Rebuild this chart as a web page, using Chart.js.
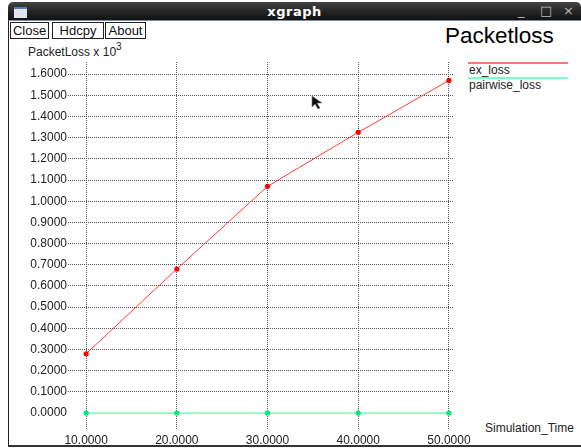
<!DOCTYPE html>
<html lang="en">
<head>
<meta charset="UTF-8"/>
<title>xgraph - Packetloss</title>
<script src="https://cdn.jsdelivr.net/npm/chart.js"></script>
<style>
  html, body { margin:0; padding:0; background:#fff; width:581px; height:448px; overflow:hidden; font-family:'Liberation Sans', Arial, sans-serif; }
  #titlebar { position:absolute; left:8px; top:2px; width:573px; height:18px; border-radius:5px 5px 0 0;
    background:linear-gradient(#444 0%, #262626 50%, #111 100%); color:#fff; }
  #titlebar .name { position:absolute; left:0; right:0; top:2px; text-align:center; font:bold 13px 'DejaVu Sans', sans-serif; letter-spacing:.5px; }
  #titlebar .icon { position:absolute; left:6px; top:5px; width:13px; height:9px; background:#dfe6ee; border-top:2px solid #5a7fb0; }
  #titlebar .ctl { position:absolute; top:1px; font:13px 'DejaVu Sans', sans-serif; color:#bbb; }
  #win { position:absolute; left:8px; top:20px; width:575px; height:424px; border-left:1px solid #222; border-bottom:2px solid #333; border-top:1px solid #7a8ca0; }
  .btn { position:absolute; top:22px; height:15px; border:1px solid #222; font-size:13px; line-height:15px; text-align:center; color:#111; background:#fff; }
  #title { position:absolute; left:445px; top:23px; font-size:22.5px; color:#000; }
  #ylab { position:absolute; left:28px; top:42px; font-size:12px; color:#222; }
  #ylab sup { font-size:10px; position:relative; top:-1px; }
  #xlab { position:absolute; left:485px; top:421px; font-size:12px; color:#222; white-space:nowrap; }
  .leg { position:absolute; left:468px; width:100px; height:2px; }
  .legt { position:absolute; left:469px; font-size:12px; color:#222; }
  canvas { position:absolute; left:0; top:0; }
  #cursor { position:absolute; left:311px; top:95px; }
</style>
</head>
<body>
<div id="titlebar">
  <div class="icon"></div>
  <div class="name">xgraph</div>
  <span class="ctl" style="left:510px">_</span>
  <span class="ctl" style="left:532px">□</span>
  <span class="ctl" style="left:555px">×</span>
</div>
<div id="win"></div>
<div class="btn" style="left:10px;width:37px">Close</div>
<div class="btn" style="left:52px;width:50px">Hdcpy</div>
<div class="btn" style="left:105px;width:39px">About</div>
<div id="title">Packetloss</div>
<div id="ylab">PacketLoss x 10<sup>3</sup></div>
<div id="xlab">Simulation_Time</div>
<div class="leg" style="top:62px;background:#ff7878"></div>
<div class="legt" style="top:63px">ex_loss</div>
<div class="leg" style="top:77px;background:#7dffc4"></div>
<div class="legt" style="top:78px">pairwise_loss</div>

<canvas id="c" width="581" height="448"></canvas>
<svg id="cursor" width="14" height="16"><polygon points="1,1 1,12 4,9 7,14 9,13 6,8 11,8" fill="#111" stroke="#777" stroke-width="0.6"/></svg>

<script>
  // data
  const simTime = [10, 20, 30, 40, 50];
  const exLoss = [0.28, 0.68, 1.07, 1.325, 1.57];
  const pairwiseLoss = [0, 0, 0, 0, 0];
  const yTicks = [0, 0.1, 0.2, 0.3, 0.4, 0.5, 0.6, 0.7, 0.8, 0.9, 1.0, 1.1, 1.2, 1.3, 1.4, 1.5, 1.6];
  const xTicks = [10, 20, 30, 40, 50];

  const pts = (ys) => simTime.map((x, i) => ({ x: x, y: ys[i] }));
  const gridColor = ctx => (ctx.tick && ctx.tick.value === 0) ? 'rgba(0,0,0,0)' : '#555';

  new Chart(document.getElementById('c'), {
    type: 'line',
    data: {
      datasets: [
        { label: 'ex_loss', data: pts(exLoss), borderColor: '#ff3b3b', backgroundColor: '#ff0000',
          borderWidth: 1, pointRadius: 2.6, pointBackgroundColor: '#ff0000', pointBorderWidth: 0 },
        { label: 'pairwise_loss', data: pts(pairwiseLoss), borderColor: '#3cf090', backgroundColor: '#00e878',
          borderWidth: 1, pointRadius: 2.6, pointBackgroundColor: '#00e878', pointBorderWidth: 0 }
      ]
    },
    options: {
      responsive: false,
      devicePixelRatio: 1,
      animation: false,
      layout: { padding: { left: 0, top: 62, right: 128, bottom: 0 } },
      plugins: { legend: { display: false }, title: { display: false }, tooltip: { enabled: false } },
      scales: {
        x: {
          type: 'linear', min: 8, max: 50.45,
          afterBuildTicks: s => { s.ticks = xTicks.map(v => ({ value: v })); },
          afterFit: s => { s.height = 18; },
          grid: { color: '#555', lineWidth: 1, drawTicks: false },
          border: { display: false, dash: [1, 1] },
          ticks: { padding: 3, color: '#222', font: { family: "'Liberation Sans', Arial", size: 12 },
                   callback: v => v.toFixed(4), maxRotation: 0 }
        },
        y: {
          type: 'linear', min: -0.08, max: 1.657,
          afterBuildTicks: s => { s.ticks = yTicks.map(v => ({ value: v })); },
          afterFit: s => { s.width = 68; },
          grid: { color: gridColor, lineWidth: 1, drawTicks: false },
          border: { display: false, dash: [1, 1] },
          ticks: { padding: 1, color: '#222', font: { family: "'Liberation Sans', Arial", size: 12 },
                   callback: v => v.toFixed(4) }
        }
      }
    }
  });
</script>
</body>
</html>
